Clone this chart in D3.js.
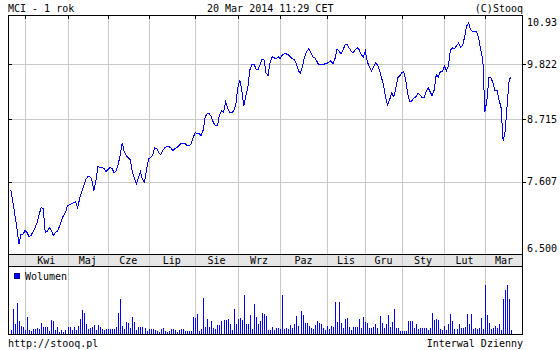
<!DOCTYPE html>
<html>
<head>
<meta charset="utf-8">
<script src="https://d3js.org/d3.v7.min.js"></script>
<style>
  body { margin: 0; background: #fff; }
  text { font-family: "DejaVu Sans Mono", monospace; font-size: 10px; fill: #000; }
</style>
</head>
<body>
<svg id="chart" width="560" height="350"></svg>
<script>
// MCI daily close, 20 Mar 2013 - 20 Mar 2014 (one value per session)
const prices = [
  7.478, 7.285, 7.083, 6.886, 6.637, 6.782, 6.782, 6.841, 6.812, 6.753,
  6.767, 6.826, 6.886, 6.961, 7.083, 7.191, 7.176, 6.812, 6.826, 6.886,
  6.841, 6.767, 6.812, 6.826, 6.901, 6.992, 7.068, 7.114, 7.222, 7.238,
  7.254, 7.270, 7.285, 7.191, 7.333, 7.446, 7.543, 7.642, 7.692, 7.692,
  7.642, 7.462, 7.625, 7.860, 7.843, 7.843, 7.826, 7.775, 7.809, 7.843,
  7.826, 7.759, 7.792, 7.894, 8.067, 8.280, 8.120, 8.050, 8.015, 7.980,
  7.775, 7.659, 7.576, 7.675, 7.775, 7.642, 7.592, 7.809, 7.997, 8.015,
  8.050, 8.191, 8.173, 8.102, 8.067, 8.137, 8.191, 8.208, 8.208, 8.191,
  8.137, 8.173, 8.191, 8.226, 8.262, 8.262, 8.262, 8.226, 8.226, 8.262,
  8.370, 8.462, 8.443, 8.443, 8.407, 8.517, 8.761, 8.818, 8.818, 8.761,
  8.648, 8.591, 8.591, 8.799, 8.876, 8.837, 9.051, 8.934, 8.837, 8.837,
  8.876, 8.973, 9.329, 9.493, 9.289, 8.973, 9.169, 9.329, 9.701, 9.807,
  9.828, 9.722, 9.701, 9.807, 9.936, 9.914, 9.638, 9.575, 9.871, 9.979,
  9.957, 9.936, 9.979, 9.936, 10.022, 10.044, 10.044, 10.022, 9.979, 9.936,
  9.914, 9.828, 9.680, 9.638, 9.786, 9.979, 10.087, 10.153, 10.087, 9.979,
  9.957, 9.893, 9.807, 9.807, 9.807, 9.828, 9.828, 9.871, 9.893, 9.828,
  9.936, 10.153, 10.109, 10.044, 10.131, 10.242, 10.264, 10.175, 10.109, 10.066,
  10.131, 10.175, 10.131, 10.022, 9.979, 10.109, 9.871, 9.765, 9.680, 9.765,
  9.850, 9.807, 9.701, 9.534, 9.390, 9.130, 8.992, 9.090, 9.229, 9.150,
  9.309, 9.534, 9.575, 9.638, 9.659, 9.472, 9.189, 9.051, 9.070, 9.130,
  9.150, 9.229, 9.189, 9.130, 9.130, 9.249, 9.329, 9.249, 9.169, 9.289,
  9.596, 9.555, 9.659, 9.659, 9.786, 9.680, 9.786, 10.131, 10.175, 10.153,
  10.220, 10.286, 10.197, 10.220, 10.421, 10.673, 10.742, 10.580, 10.534, 10.534,
  10.534, 10.375, 10.131, 9.914, 8.857, 9.070, 9.534, 9.534, 9.431, 9.269,
  9.289, 9.090, 8.934, 8.316, 8.480, 8.992, 9.493, 9.555
];

// daily volume (same sessions)
const volumes = [
  40, 250, 100, 310, 130, 80, 70, 40, 170, 40,
  30, 50, 50, 60, 50, 110, 70, 70, 70, 30,
  140, 130, 40, 70, 20, 40, 20, 40, 70, 70,
  40, 70, 40, 80, 150, 240, 210, 100, 50, 60,
  70, 90, 40, 90, 70, 50, 40, 50, 50, 50,
  50, 50, 70, 210, 350, 80, 50, 120, 110, 60,
  170, 120, 40, 70, 70, 70, 60, 30, 50, 50,
  50, 40, 30, 20, 50, 60, 30, 20, 30, 50,
  50, 40, 20, 40, 50, 50, 30, 30, 30, 30,
  170, 160, 200, 30, 50, 360, 70, 150, 70, 130,
  60, 50, 90, 90, 130, 140, 140, 150, 100, 40,
  250, 100, 150, 160, 140, 390, 100, 100, 190, 50,
  300, 170, 100, 130, 210, 200, 180, 40, 40, 70,
  40, 60, 60,
  50, 390, 50, 60, 50, 90, 60, 100, 180, 80,
  230, 190, 110, 110, 80, 60, 50, 90, 130, 110,
  100, 60, 40, 80, 50, 80, 70, 320, 120, 320,
  110, 60, 150, 160, 70, 40, 70, 70, 70, 150,
  60, 170, 120, 110, 60, 60, 70, 100, 60, 180,
  110, 60, 100, 190, 70, 120, 250, 60, 60, 30,
  30, 30, 30, 130, 130, 130, 60, 100, 50, 60,
  60, 60, 60, 40, 60, 210, 140, 150, 140, 50,
  40, 80, 40, 100, 200, 130, 50, 50, 100, 60,
  60, 70, 200, 100, 200, 50, 60, 50, 60, 160,
  50, 490, 190, 110, 50, 60, 80, 60, 100, 40,
  350, 440, 490, 350, 40
];

// months and the session index where each one starts
const months = ["Kwi", "Maj", "Cze", "Lip", "Sie", "Wrz", "Paz", "Lis", "Gru", "Sty", "Lut", "Mar"];
const monthStart = [7, 28, 48, 68, 91, 112, 133, 156, 175, 193, 214, 234];

const priceTicks = [6.5, 7.607, 8.715, 9.822, 10.93];
const priceTickLabels = ["6.500", "7.607", "8.715", "9.822", "10.93"];

// layout
const plotLeft = 8, plotRight = 523, plotTop = 15;
const priceBottom = 254, bandBottom = 266, volBottom = 335;
const gridColor = "#c8c8c8";

const svg = d3.select("#chart");
const n = prices.length;

// scales
const x = d3.scaleLinear().domain([0, n - 1]).range([10.8, 511.2]);
const y = d3.scaleLog().domain([6.5, 10.93]).range([priceBottom, plotTop]);
const yVol = d3.scaleLinear().domain([0, 680]).range([volBottom - 1, bandBottom]);
const px = (i) => Math.round(x(i)) + 0.5;

// month band
svg.append("rect")
  .attr("x", plotLeft).attr("y", priceBottom)
  .attr("width", plotRight - plotLeft).attr("height", bandBottom - priceBottom)
  .attr("fill", "#e6e6e6");

// vertical grid
svg.append("g").selectAll("line")
  .data(monthStart)
  .enter()
  .append("line")
  .attr("x1", (d) => px(d)).attr("x2", (d) => px(d))
  .attr("y1", plotTop).attr("y2", volBottom)
  .attr("stroke", gridColor)
  .attr("shape-rendering", "crispEdges");

// horizontal grid (inner ticks only)
const innerTicks = priceTicks.slice(1, -1);
svg.append("g").selectAll("line")
  .data(innerTicks)
  .enter()
  .append("line")
  .attr("x1", plotLeft).attr("x2", plotRight)
  .attr("y1", (d) => Math.round(y(d)) + 0.5).attr("y2", (d) => Math.round(y(d)) + 0.5)
  .attr("stroke", gridColor)
  .attr("shape-rendering", "crispEdges");

// small black ticks
const ticks = svg.append("g").attr("stroke", "#000").attr("shape-rendering", "crispEdges");
innerTicks.forEach((d) => {
  const yy = Math.round(y(d)) + 0.5;
  ticks.append("line").attr("x1", plotLeft).attr("x2", plotLeft + 4).attr("y1", yy).attr("y2", yy);
  ticks.append("line").attr("x1", plotRight).attr("x2", plotRight + 3).attr("y1", yy).attr("y2", yy);
});
monthStart.forEach((d) => {
  ticks.append("line").attr("x1", px(d)).attr("x2", px(d)).attr("y1", plotTop).attr("y2", plotTop + 4);
});

// price line
const line = d3.line()
  .x((d, i) => x(i))
  .y((d) => y(d));
svg.append("path")
  .datum(prices)
  .attr("fill", "none")
  .attr("stroke", "#0000ff")
  .attr("stroke-width", 1)
  .attr("shape-rendering", "crispEdges")
  .attr("d", line);

// volume bars
svg.append("g").selectAll("rect")
  .data(volumes)
  .enter()
  .append("rect")
  .attr("x", (d, i) => Math.round(x(i)))
  .attr("y", (d) => Math.round(yVol(d)))
  .attr("width", 1)
  .attr("height", (d) => volBottom - Math.round(yVol(d)))
  .attr("fill", "#0000ff")
  .attr("shape-rendering", "crispEdges");

// frame
const frame = svg.append("g").attr("stroke", "#000").attr("fill", "none").attr("shape-rendering", "crispEdges");
frame.append("rect")
  .attr("x", plotLeft + 0.5).attr("y", plotTop + 0.5)
  .attr("width", plotRight - plotLeft - 1).attr("height", volBottom - plotTop - 1);
[priceBottom, bandBottom].forEach((v) => {
  frame.append("line").attr("x1", plotLeft).attr("x2", plotRight).attr("y1", v + 0.5).attr("y2", v + 0.5);
});

// month labels
const bounds = monthStart.map((d) => x(d)).concat([plotRight]);
svg.append("g").selectAll("text")
  .data(months)
  .enter()
  .append("text")
  .attr("x", (d, i) => (bounds[i] + bounds[i + 1]) / 2)
  .attr("y", bandBottom - 2.5)
  .attr("text-anchor", "middle")
  .text((d) => d);

// right axis labels
svg.append("g").selectAll("text")
  .data(priceTicks)
  .enter()
  .append("text")
  .attr("x", plotRight + 4)
  .attr("y", (d) => Math.min(Math.max(y(d), 22), 248) + 3.5)
  .text((d, i) => priceTickLabels[i]);

// legend
svg.append("rect")
  .attr("x", 14.5).attr("y", 273.5).attr("width", 5).attr("height", 5)
  .attr("fill", "#0000ff").attr("stroke", "#000080")
  .attr("shape-rendering", "crispEdges");
svg.append("text").attr("x", 25).attr("y", 280).text("Wolumen");

// header and footer
svg.append("text").attr("x", plotLeft).attr("y", 12).text("MCI - 1 rok");
svg.append("text").attr("x", 207).attr("y", 12).text("20 Mar 2014 11:29 CET");
svg.append("text").attr("x", plotRight).attr("y", 12).attr("text-anchor", "end").text("(C)Stooq");
svg.append("text").attr("x", plotLeft).attr("y", 347).text("http://stooq.pl");
svg.append("text").attr("x", plotRight).attr("y", 347).attr("text-anchor", "end").text("Interwal Dzienny");
</script>
</body>
</html>
